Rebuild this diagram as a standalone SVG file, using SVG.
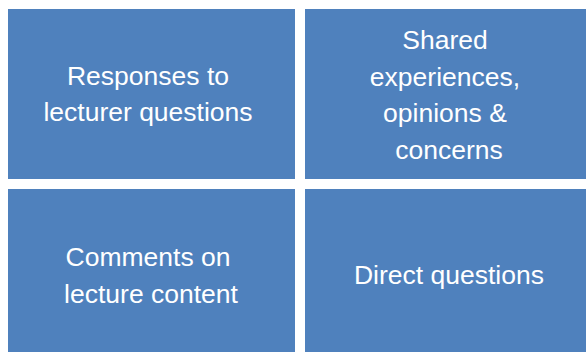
<svg xmlns="http://www.w3.org/2000/svg" width="586" height="352" viewBox="0 0 586 352">
<style>
.box{fill:#4f81bd}
.t{fill:#ffffff;font-family:"Liberation Sans",Arial,sans-serif;font-size:26.5px;text-anchor:middle}
</style>
<rect width="586" height="352" fill="#ffffff"/>
<g id="connectors"></g>
<g id="node1">
<rect class="box" x="8" y="9" width="287" height="170"/>
<text class="t" x="148" y="85">Responses to</text>
<text class="t" x="148" y="121">lecturer questions</text>
</g>
<g id="node2">
<rect class="box" x="305" y="9" width="281" height="170"/>
<text class="t" x="445" y="49">Shared</text>
<text class="t" x="445" y="86">experiences,</text>
<text class="t" x="445" y="122">opinions &amp;</text>
<text class="t" x="449" y="159">concerns</text>
</g>
<g id="node3">
<rect class="box" x="8" y="189" width="287" height="163"/>
<text class="t" x="148" y="266">Comments on</text>
<text class="t" x="151" y="303">lecture content</text>
</g>
<g id="node4">
<rect class="box" x="305" y="189" width="281" height="163"/>
<text class="t" x="449" y="284">Direct questions</text>
</g>
</svg>
